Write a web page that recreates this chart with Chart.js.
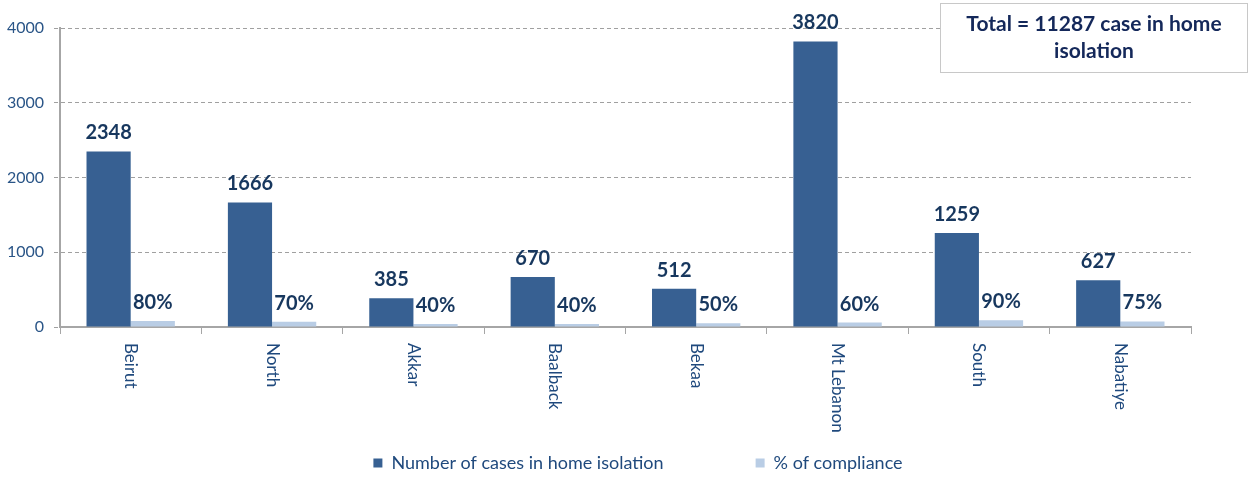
<!DOCTYPE html>
<html>
<head>
<meta charset="utf-8">
<script src="https://cdn.jsdelivr.net/npm/chart.js@4.4.0/dist/chart.umd.min.js"></script>
<style>
    body { margin: 0; background: #fff; }
    #wrap { width: 1249px; height: 478px; }
</style>
</head>
<body>
<div id="wrap"><canvas id="homeChart"></canvas></div>
<script>
// chart data
var regions = ["Beirut", "North", "Akkar", "Baalback", "Bekaa", "Mt Lebanon", "South", "Nabatiye"];
var homeIsolation = [2348, 1666, 385, 670, 512, 3820, 1259, 627];
var compliance = [80, 70, 40, 40, 50, 60, 90, 75];
var yTicks = [0, 1000, 2000, 3000, 4000];
var totalLines = ["Total = 11287 case in home", "isolation"];

var FONT = "Lato, 'Open Sans', sans-serif";

// value labels above each bar
var barLabels = {
    id: "barLabels",
    afterDatasetsDraw: function (chart) {
        var ctx = chart.ctx;
        ctx.save();
        ctx.font = "bold 20px " + FONT;
        ctx.fillStyle = "#17375E";
        ctx.textAlign = "center";
        ctx.textBaseline = "alphabetic";
        chart.data.datasets.forEach(function (ds, di) {
            chart.getDatasetMeta(di).data.forEach(function (bar, i) {
                var txt = di === 0 ? String(ds.data[i]) : ds.data[i] + "%";
                ctx.fillText(txt, bar.x, bar.y - 12);
            });
        });
        ctx.restore();
    }
};

// category names, rotated to read downwards
var xLabels = {
    id: "xLabels",
    afterDraw: function (chart) {
        var ctx = chart.ctx;
        var xs = chart.scales.x;
        ctx.save();
        ctx.font = "17px " + FONT;
        ctx.fillStyle = "#1F497D";
        ctx.textAlign = "left";
        ctx.textBaseline = "middle";
        regions.forEach(function (r, i) {
            ctx.save();
            ctx.translate(xs.getPixelForValue(i), xs.top + 16);
            ctx.rotate(Math.PI / 2);
            ctx.fillText(r, 0, 0);
            ctx.restore();
        });
        ctx.restore();
    }
};

// total text box in the top right corner
var totalBox = {
    id: "totalBox",
    afterDraw: function (chart) {
        var ctx = chart.ctx;
        ctx.save();
        ctx.fillStyle = "#fff";
        ctx.fillRect(940.5, 3.5, 307, 69);
        ctx.strokeStyle = "#c8c8c8";
        ctx.lineWidth = 1;
        ctx.strokeRect(940.5, 3.5, 307, 69);
        ctx.font = "bold 21px " + FONT;
        ctx.fillStyle = "#14285A";
        ctx.textAlign = "center";
        ctx.textBaseline = "middle";
        ctx.fillText(totalLines[0], 1094, 24);
        ctx.fillText(totalLines[1], 1094, 51);
        ctx.restore();
    }
};

var ctx = document.getElementById("homeChart").getContext("2d");
new Chart(ctx, {
    type: "bar",
    data: {
        labels: regions,
        datasets: [{
            label: "Number of cases in home isolation",
            data: homeIsolation,
            backgroundColor: "#376092",
            categoryPercentage: 0.625,
            barPercentage: 1
        }, {
            label: "% of compliance",
            data: compliance,
            backgroundColor: "#B9CDE5",
            categoryPercentage: 0.625,
            barPercentage: 1
        }]
    },
    options: {
        responsive: true,
        maintainAspectRatio: false,
        animation: false,
        layout: {
            padding: { top: 28, left: 0, right: -27, bottom: 0 }
        },
        plugins: {
            tooltip: { enabled: false },
            legend: {
                position: "bottom",
                maxHeight: 116,
                labels: {
                    boxWidth: 9,
                    boxHeight: 9,
                    padding: 92,
                    color: "#1F497D",
                    font: { family: FONT, size: 18 }
                }
            }
        },
        scales: {
            x: {
                grid: {
                    offset: true,
                    drawOnChartArea: false,
                    drawTicks: true,
                    tickLength: 7,
                    color: "#a6a6a6"
                },
                border: { color: "#a6a6a6", width: 2 },
                ticks: { display: false },
                afterFit: function (scale) { scale.height = 35; }
            },
            y: {
                min: 0,
                max: 4000,
                afterBuildTicks: function (scale) {
                    scale.ticks = yTicks.map(function (v) { return { value: v }; });
                },
                grid: {
                    color: "#a0a0a0",
                    tickLength: 6,
                    tickBorderDash: [4, 3],
                    tickColor: "#a0a0a0"
                },
                border: { color: "#a6a6a6", width: 2, dash: [4, 3] },
                ticks: {
                    padding: 10,
                    color: "#2A5587",
                    font: { family: FONT, size: 16 },
                    callback: function (v) { return String(v); }
                },
                afterFit: function (scale) { scale.width = 60; }
            },
            yR: {
                position: "right",
                grid: { display: false },
                border: { display: false },
                ticks: { display: false },
                afterFit: function (scale) { scale.width = 85; }
            }
        }
    },
    plugins: [barLabels, xLabels, totalBox]
});
</script>
</body>
</html>
